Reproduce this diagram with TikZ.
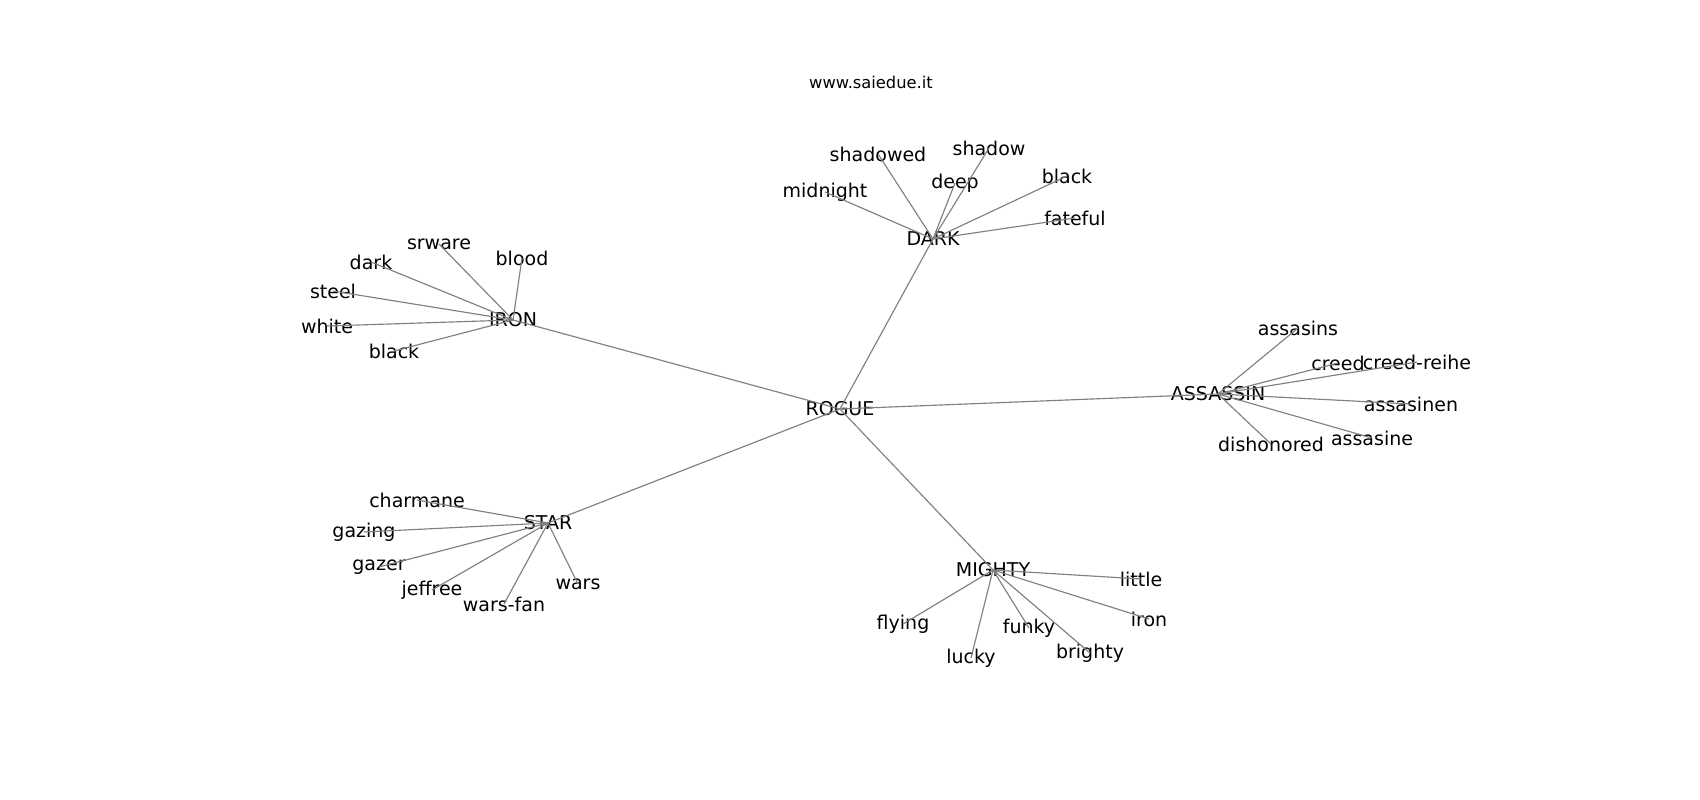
\documentclass[tikz,border=0pt]{standalone}
\usepackage{fontspec}
\setmainfont{DejaVu Sans}
\begin{document}
\begin{tikzpicture}[x=1pt,y=-1pt,
  lbl/.style={inner sep=0pt,font=\fontsize{19}{22}\selectfont,text=black},
  ttl/.style={inner sep=0pt,font=\fontsize{16.3}{19}\selectfont,text=black},
  edge/.style={draw=gray,line width=1.15pt}]
\useasboundingbox[fill=white] (0,0) rectangle (1700,800);
\node[ttl] (title) at (871,82) {www.saiedue.it};
% hubs
\node[lbl] (ROGUE) at (840,409) {ROGUE};
\node[lbl] (DARK) at (933,239) {DARK};
\node[lbl] (IRON) at (513,320) {IRON};
\node[lbl] (ASSASSIN) at (1218,394) {ASSASSIN};
\node[lbl] (STAR) at (548,523) {STAR};
\node[lbl] (MIGHTY) at (993,570) {MIGHTY};
% DARK leaves
\node[lbl] (midnight) at (825,192) {midnight};
\node[lbl] (shadowed) at (878,154) {shadowed};
\node[lbl] (shadow) at (989,148) {shadow};
\node[lbl] (deep) at (955,183) {deep};
\node[lbl] (dblack) at (1067,176) {black};
\node[lbl] (fateful) at (1075,218) {fateful};
% IRON leaves
\node[lbl] (srware) at (439,244) {srware};
\node[lbl] (blood) at (522,258) {blood};
\node[lbl] (dark) at (371,262) {dark};
\node[lbl] (steel) at (333,291) {steel};
\node[lbl] (white) at (327,326) {white};
\node[lbl] (iblack) at (394,351) {black};
% ASSASSIN leaves
\node[lbl] (assasins) at (1298,328) {assasins};
\node[lbl] (creed) at (1338,363) {creed};
\node[lbl] (creedreihe) at (1417,362) {creed-reihe};
\node[lbl] (assasinen) at (1411,404) {assasinen};
\node[lbl] (assasine) at (1372,438) {assasine};
\node[lbl] (dishonored) at (1271,444) {dishonored};
% STAR leaves
\node[lbl] (charmane) at (417,500) {charmane};
\node[lbl] (gazing) at (364,532) {gazing};
\node[lbl] (gazer) at (379,567) {gazer};
\node[lbl] (jeffree) at (432,590) {jeffree};
\node[lbl] (warsfan) at (504,604) {wars-fan};
\node[lbl] (wars) at (578,584) {wars};
% MIGHTY leaves
\node[lbl] (little) at (1141,579) {little};
\node[lbl] (iron) at (1149,619) {iron};
\node[lbl] (flying) at (903,624) {flying};
\node[lbl] (funky) at (1029,628) {funky};
\node[lbl] (lucky) at (971,658) {lucky};
\node[lbl] (brighty) at (1090,653) {brighty};
% edges
\foreach \h in {DARK,IRON,ASSASSIN,STAR,MIGHTY}
  \draw[edge] (ROGUE.center) -- (\h.center);
\foreach \l in {midnight,shadowed,shadow,deep,dblack,fateful}
  \draw[edge] (DARK.center) -- (\l.center);
\foreach \l in {srware,blood,dark,steel,white,iblack}
  \draw[edge] (IRON.center) -- (\l.center);
\foreach \l in {assasins,creed,creedreihe,assasinen,assasine,dishonored}
  \draw[edge] (ASSASSIN.center) -- (\l.center);
\foreach \l in {charmane,gazing,gazer,jeffree,warsfan,wars}
  \draw[edge] (STAR.center) -- (\l.center);
\foreach \l in {little,iron,flying,funky,lucky,brighty}
  \draw[edge] (MIGHTY.center) -- (\l.center);
\end{tikzpicture}
\end{document}
